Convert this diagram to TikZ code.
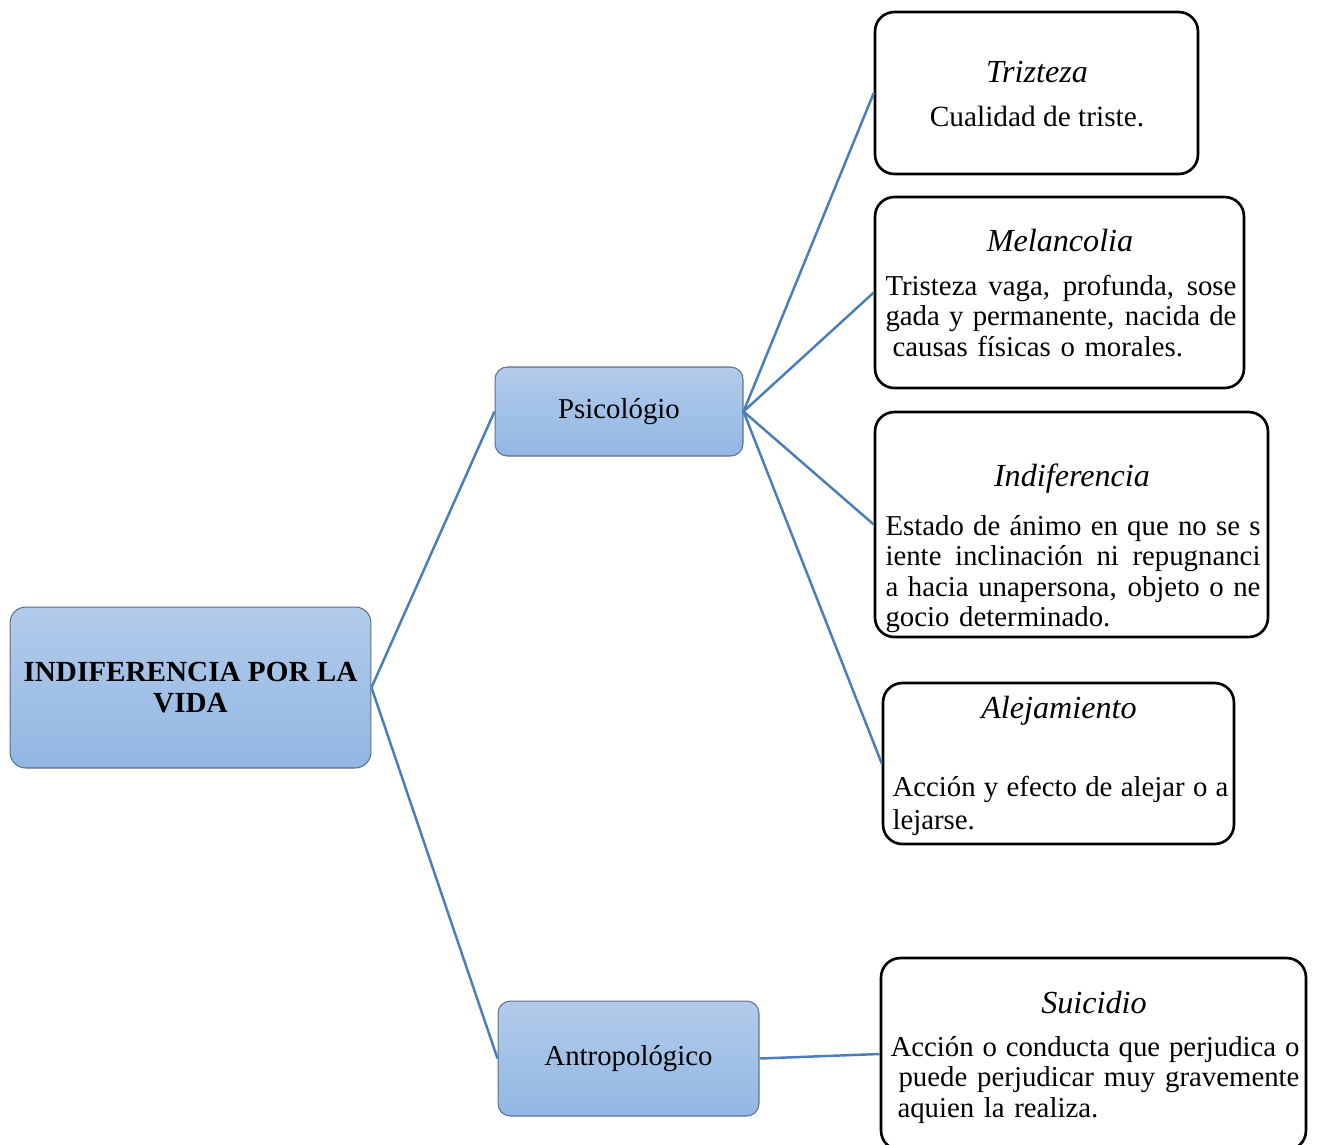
\documentclass[tikz,border=0pt]{standalone}
\usepackage{fontspec}
\setmainfont{Liberation Serif}
\usetikzlibrary{positioning}
\definecolor{boxtop}{RGB}{178,203,234}
\definecolor{boxbottom}{RGB}{145,183,227}
\definecolor{boxline}{RGB}{95,112,140}
\definecolor{linkblue}{RGB}{74,126,187}
\newcommand{\normaltext}{\fontsize{16.4}{17.3}\selectfont}
\newcommand{\titletext}{\fontsize{18.3}{20}\selectfont\itshape}
\newcommand{\fullline}[1]{\leavevmode\hbox to\linewidth{\spaceskip=0.15em plus 1fil\relax #1}}
\tikzstyle{concept} = [rectangle, draw=boxline, line width=0.6pt, top color=boxtop,
    bottom color=boxbottom, rounded corners=7pt, align=center, font=\normaltext]
\tikzstyle{defn} = [rectangle, draw=black, line width=1.5pt, rounded corners=11pt]
\tikzstyle{headword} = [inner sep=0pt, font=\titletext]
\tikzstyle{meaning} = [anchor=west, inner sep=0pt, align=left, font=\normaltext]

\begin{document}
\begin{tikzpicture}[x=0.02cm,y=-0.02cm,semithick,
                    every edge/.style={draw=linkblue,line width=1.4pt}]
  \useasboundingbox (0,0) rectangle (1318,1144);

  % left side
  \node[concept, rounded corners=9pt, minimum width=7.22cm, minimum height=3.22cm,
        font=\fontsize{16.6}{17.3}\selectfont\bfseries] (root) at (190.5,687.5) {INDIFERENCIA POR LA\\VIDA};
  \node[concept, minimum width=4.96cm, minimum height=1.78cm] (psico) at (619,411.5) {Psicológio};
  \node[concept, minimum width=5.22cm, minimum height=2.3cm] (antro) at (628.5,1058.5) {Antropológico};

  % definitions
  \node[defn, minimum width=6.46cm, minimum height=3.24cm] (trizteza) at (1036.5,93) {};
  \node[headword] (trizteza-title) at (1037,72) {Trizteza};
  \node[inner sep=0pt, font=\fontsize{16.7}{17.3}\selectfont] (trizteza-text) at (1037,117) {Cualidad de triste.};

  \node[defn, minimum width=7.38cm, minimum height=3.82cm] (melancolia) at (1059.5,292.5) {};
  \node[headword] (melancolia-title) at (1060,241) {Melancolia};
  \node[meaning, text width=7.02cm] (melancolia-text) at (885,316)
    {\fullline{Tristeza vaga, profunda, sose}\\
     \fullline{gada y permanente, nacida de}\\
     \hspace*{0.14cm}causas físicas o morales.};

  \node[defn, minimum width=7.86cm, minimum height=4.5cm] (indiferencia) at (1071.5,524.5) {};
  \node[headword] (indiferencia-title) at (1072,479) {Indiferencia};
  \node[meaning, text width=7.5cm] (indiferencia-text) at (885,574)
    {\fullline{Estado de ánimo en que no se s}\\
     \fullline{iente inclinación ni repugnanci}\\
     \fullline{a hacia unapersona, objeto o ne}\\
     gocio determinado.};

  \node[defn, minimum width=7.02cm, minimum height=3.22cm] (alejamiento) at (1058.5,763.5) {};
  \node[headword] (alejamiento-title) at (1059,711) {Alejamiento};
  \node[meaning, text width=6.72cm, font=\fontsize{16.4}{18.7}\selectfont] (alejamiento-text) at (892,806)
    {\fullline{Acción y efecto de alejar o a}\\
     lejarse.};

  \node[defn, minimum width=8.5cm, minimum height=3.84cm] (suicidio) at (1093.5,1054) {};
  \node[headword] (suicidio-title) at (1094,1003) {Suicidio};
  \node[meaning, text width=8.18cm] (suicidio-text) at (890,1080)
    {\fullline{Acción o conducta que perjudica o}\\
     \fullline{\hspace*{0.16cm}puede perjudicar muy gravemente}\\
     \hspace*{0.14cm}aquien la realiza.};

  \path (root.east)  edge (psico.west)
        (root.east)  edge (antro.west)
        (psico.east) edge (trizteza.west)
        (psico.east) edge (melancolia.west)
        (psico.east) edge (indiferencia.west)
        (psico.east) edge (alejamiento.west)
        (antro.east) edge (suicidio.west);
\end{tikzpicture}
\end{document}
